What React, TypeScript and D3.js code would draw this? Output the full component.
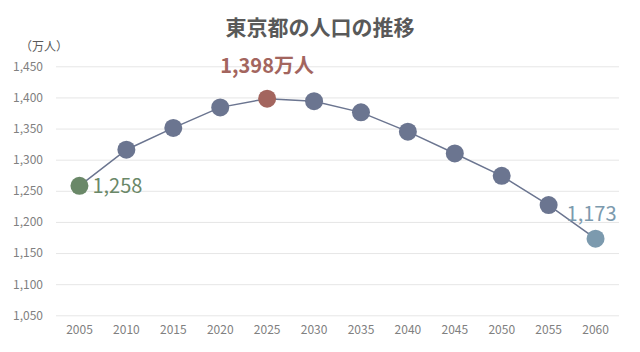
import { useEffect, useRef } from 'react';
import * as d3 from 'd3';

// 東京都の人口（万人）
const years = ['2005', '2010', '2015', '2020', '2025', '2030', '2035', '2040', '2045', '2050', '2055', '2060'];
const population = [1258, 1316, 1351, 1384, 1398, 1394, 1376, 1345, 1310, 1274, 1227, 1173];
const yTicks = [1050, 1100, 1150, 1200, 1250, 1300, 1350, 1400, 1450];

const FONT = '"Noto Sans CJK JP", "Noto Sans", sans-serif';
const LINE_COLOR = '#6b7590';
const START_COLOR = '#6a8868';
const PEAK_COLOR = '#a3655e';
const END_COLOR = '#7c9aae';

export default function App() {
  const svgRef = useRef<SVGSVGElement | null>(null);

  useEffect(() => {
    if (!svgRef.current) return;
    const svg = d3.select(svgRef.current);
    svg.selectAll('*').remove();

    const width = 640;
    const height = 352;
    const margin = { top: 66, right: 21, bottom: 37, left: 56 };

    const x = d3
      .scaleBand<string>()
      .domain(years)
      .range([margin.left, width - margin.right]);
    const y = d3
      .scaleLinear()
      .domain([1050, 1450])
      .range([height - margin.bottom + 0.3, margin.top + 0.3]);

    svg.attr('viewBox', `0 0 ${width} ${height}`).style('font-family', FONT);

    // grid
    const grid = svg
      .append('g')
      .attr('transform', `translate(${margin.left},0)`)
      .call(
        d3
          .axisLeft(y)
          .tickValues(yTicks)
          .tickSize(-(width - margin.left - margin.right))
          .tickFormat(() => '')
      );
    grid.select('.domain').remove();
    grid.selectAll('line').style('stroke', '#e6e6e6').style('stroke-width', 1);

    // y axis labels
    const yAxis = svg
      .append('g')
      .attr('transform', `translate(${margin.left - 13},0)`)
      .call(
        d3
          .axisLeft(y)
          .tickValues(yTicks)
          .tickSize(0)
          .tickPadding(0)
          .tickFormat((v) => d3.format(',')(v as number))
      );
    yAxis.select('.domain').remove();
    yAxis
      .selectAll('.tick text')
      .style('fill', '#808080')
      .style('font-size', '12px')
      .style('font-family', FONT);

    // x axis labels
    const xAxis = svg
      .append('g')
      .attr('transform', `translate(0,${height - margin.bottom})`)
      .call(d3.axisBottom(x).tickSize(0).tickPadding(10));
    xAxis.select('.domain').remove();
    xAxis
      .selectAll('.tick text')
      .style('fill', '#808080')
      .style('font-size', '12px')
      .style('font-family', FONT);

    // unit label
    svg
      .append('text')
      .attr('x', 20)
      .attr('y', 51)
      .attr('fill', '#595959')
      .attr('font-size', 12)
      .text('（万人）');

    // title
    svg
      .append('text')
      .attr('x', width / 2)
      .attr('y', 35)
      .attr('text-anchor', 'middle')
      .attr('fill', '#595959')
      .attr('font-size', 21)
      .attr('font-weight', 'bold')
      .text('東京都の人口の推移');

    const cx = (i: number) => (x(years[i]) ?? 0) + x.bandwidth() / 2;

    const line = d3
      .line<number>()
      .x((_, i) => cx(i))
      .y((d) => y(d));

    svg
      .append('path')
      .datum(population)
      .attr('fill', 'none')
      .attr('stroke', LINE_COLOR)
      .attr('stroke-width', 1.5)
      .attr('d', line);

    const peakIdx = population.indexOf(d3.max(population) ?? 0);
    const lastIdx = population.length - 1;
    const colorFor = (i: number) =>
      i === 0 ? START_COLOR : i === peakIdx ? PEAK_COLOR : i === lastIdx ? END_COLOR : LINE_COLOR;

    svg
      .append('g')
      .selectAll('circle')
      .data(population)
      .join('circle')
      .attr('cx', (_, i) => cx(i))
      .attr('cy', (d) => y(d))
      .attr('r', 9)
      .attr('fill', (_, i) => colorFor(i));

    // annotations
    svg
      .append('text')
      .attr('x', cx(0) + 13)
      .attr('y', y(population[0]))
      .attr('dy', '0.36em')
      .attr('fill', START_COLOR)
      .attr('font-size', 20)
      .text(d3.format(',')(population[0]));

    svg
      .append('text')
      .attr('x', cx(peakIdx))
      .attr('y', y(population[peakIdx]) - 26)
      .attr('text-anchor', 'middle')
      .attr('fill', PEAK_COLOR)
      .attr('font-size', 20)
      .attr('font-weight', 'bold')
      .text(`${d3.format(',')(population[peakIdx])}万人`);

    svg
      .append('text')
      .attr('x', cx(lastIdx) + 21)
      .attr('y', y(population[lastIdx]) - 25)
      .attr('dy', '0.36em')
      .attr('text-anchor', 'end')
      .attr('fill', END_COLOR)
      .attr('font-size', 20)
      .text(d3.format(',')(population[lastIdx]));
  }, []);

  return (
    <svg
      ref={svgRef}
      width={640}
      height={352}
      style={{ position: 'absolute', left: 0, top: 0, background: '#fff' }}
      role="img"
      aria-label="東京都の人口の推移"
    />
  );
}
